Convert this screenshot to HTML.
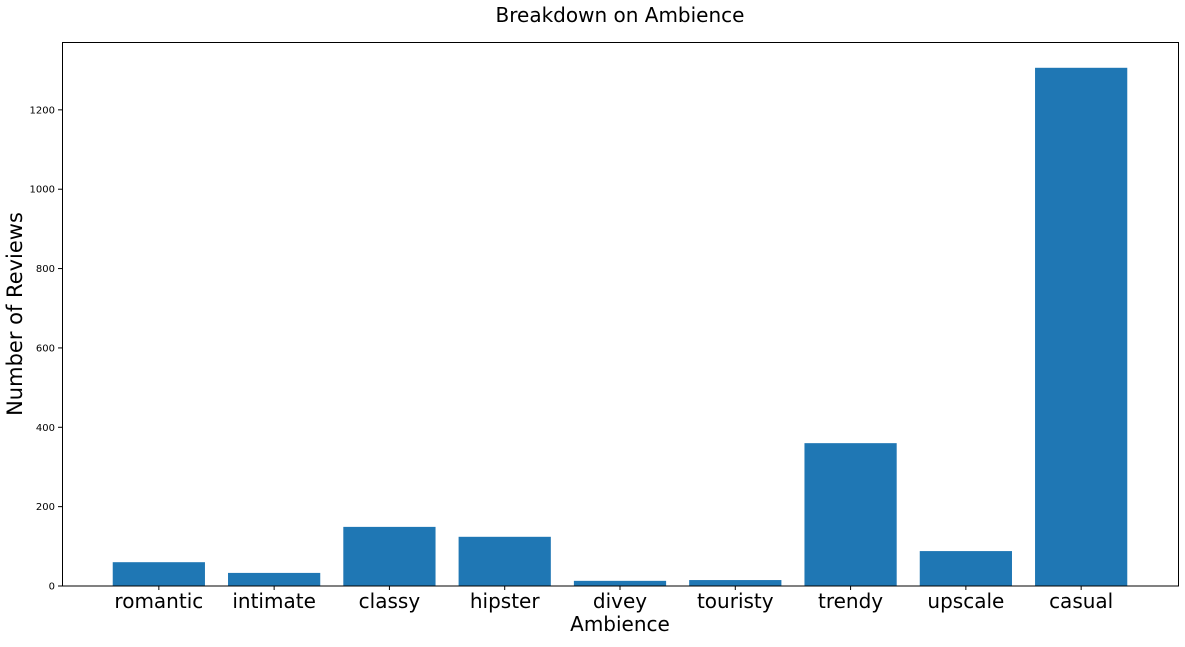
<!DOCTYPE html>
<html><head><meta charset="utf-8"><style>
body{margin:0;background:#fff;font-family:"Liberation Sans","DejaVu Sans",sans-serif}
</style></head><body>
<svg id="chart" width="1185" height="642" xmlns="http://www.w3.org/2000/svg">
<text x="620" y="22" font-size="20" text-anchor="middle" font-family="DejaVu Sans, sans-serif">Breakdown on Ambience</text>
<g id="bars"></g><g id="yticks"></g><g id="xticks"></g>
<rect x="62.5" y="42.5" width="1116" height="543.5" fill="none" stroke="#000" stroke-width="1"/>
<text x="620" y="631" font-size="20" text-anchor="middle" font-family="DejaVu Sans, sans-serif">Ambience</text>
<text transform="translate(22,314) rotate(-90)" font-size="21" text-anchor="middle" font-family="DejaVu Sans, sans-serif">Number of Reviews</text>
</svg>
<script>
const categories=["romantic","intimate","classy","hipster","divey","touristy","trendy","upscale","casual"];
const values=[60,33,149,124,13,15,360,88,1306];
const yTicks=[0,200,400,600,800,1000,1200];
const L=62,R=1178,T=42,B=586,ymax=1371,xmin=-0.84,xmax=8.84;
const sx=v=>L+(v-xmin)/(xmax-xmin)*(R-L);
const sy=v=>B-v/ymax*(B-T);
const NS="http://www.w3.org/2000/svg";
const bars=document.getElementById('bars'),yt=document.getElementById('yticks'),xt=document.getElementById('xticks');
function mk(t,a,p){const e=document.createElementNS(NS,t);for(const k in a)e.setAttribute(k,a[k]);p.appendChild(e);return e;}
values.forEach((v,i)=>{
 const r=mk('rect',{x:sx(i-0.4),y:sy(v),width:sx(i+0.4)-sx(i-0.4),height:B-sy(v),fill:'#1f77b4'},bars);
 
 
});
categories.forEach((c,i)=>{
 mk('line',{x1:sx(i),x2:sx(i),y1:B,y2:B+4,stroke:'#000'},xt);
 const t=mk('text',{x:sx(i),y:B+22,'font-size':20,'text-anchor':'middle','font-family':'DejaVu Sans, sans-serif'},xt);
 t.textContent=c;
 
 
});
yTicks.forEach(v=>{
 mk('line',{x1:L-4,x2:L,y1:sy(v),y2:sy(v),stroke:'#000'},yt);
 const t=mk('text',{x:L-7,y:sy(v)+3.5,'font-size':10,'text-anchor':'end','font-family':'DejaVu Sans, sans-serif'},yt);
 t.textContent=v;
 
 
});
</script>
</body></html>
